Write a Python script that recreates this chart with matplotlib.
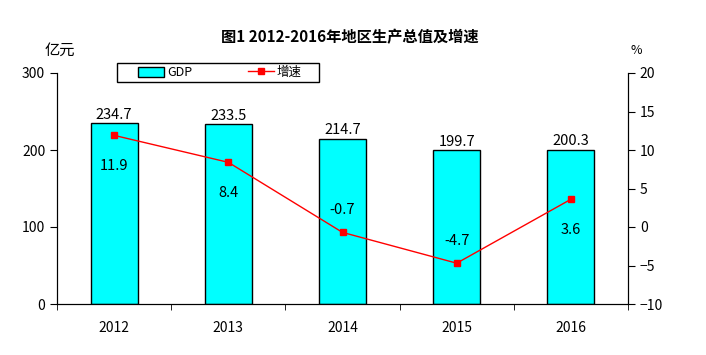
import numpy as np
import matplotlib
matplotlib.use("Agg")
import matplotlib.pyplot as plt
from matplotlib.patches import Rectangle

plt.rcParams['font.family'] = ['Noto Sans CJK SC', 'DejaVu Sans']

years = ["2012", "2013", "2014", "2015", "2016"]
gdp = [234.7, 233.5, 214.7, 199.7, 200.3]
growth = [11.9, 8.4, -0.7, -4.7, 3.6]
# label offsets for growth values (points), picked by eye
growth_dy = [-22, -22, 16, 16, -22]

fig = plt.figure(figsize=(7.06, 3.55), dpi=100)
ax = fig.add_axes([57 / 706, 1 - 304 / 355, 571 / 706, 231 / 355])
x = np.arange(len(years))

bars = ax.bar(x, gdp, width=0.41, color="#00FFFF", edgecolor="black", linewidth=1, label="GDP")
ax.set_xlim(-0.5, len(years) - 0.5)
ax.set_ylim(0, 300)
ax.set_yticks([0, 100, 200, 300])
ax.set_xticks(x)
ax.set_xticklabels(years, fontsize=10)
ax.set_xticks(np.arange(-0.5, len(years)), minor=True)
ax.tick_params(axis="x", which="major", length=0, pad=12)
ax.tick_params(axis="x", which="minor", length=4, direction="out")
ax.tick_params(axis="y", labelsize=10, length=5)
ax.spines["top"].set_visible(False)
for b, v in zip(bars, gdp):
    ax.annotate(f"{v}", (b.get_x() + b.get_width() / 2, v), xytext=(0, 1),
                textcoords="offset points", ha="center", va="bottom", fontsize=10.5)

ax2 = ax.twinx()
ax2.plot(x, growth, color="red", linewidth=1, marker="s", markersize=5, label="增速")
ax2.set_ylim(-10, 20)
ax2.set_yticks(range(-10, 21, 5))
ax2.tick_params(axis="y", labelsize=10, length=5)
ax2.spines["top"].set_visible(False)
for xi, v, dy in zip(x, growth, growth_dy):
    ax2.annotate(f"{v}", (xi, v), xytext=(0, dy), textcoords="offset points",
                 ha="center", va="center", fontsize=10.5)

fig.text(60 / 706, 1 - 50 / 355, "亿元", ha="center", va="center", fontsize=11)
fig.text(636 / 706, 1 - 50 / 355, "%", ha="center", va="center", fontsize=9)
fig.text(350 / 706, 1 - 37 / 355, "图1 2012-2016年地区生产总值及增速", ha="center", va="center",
         fontsize=11, fontweight="bold")

# legend frame drawn by hand, entries placed inside
fig.patches.append(Rectangle((117 / 706, 1 - 82 / 355), 202 / 706, 19 / 355,
                             transform=fig.transFigure, fill=False,
                             edgecolor="black", linewidth=1))
h1, l1 = ax.get_legend_handles_labels()
h2, l2 = ax2.get_legend_handles_labels()
fig.legend(h1 + h2, l1 + l2, ncol=2, loc="center",
           bbox_to_anchor=(220 / 706, 1 - 72.5 / 355),
           frameon=False, fontsize=9, handlelength=2.1, handleheight=0.9,
           handletextpad=0.2, columnspacing=4.5, borderpad=0)

fig.savefig("out.png", dpi=100)
